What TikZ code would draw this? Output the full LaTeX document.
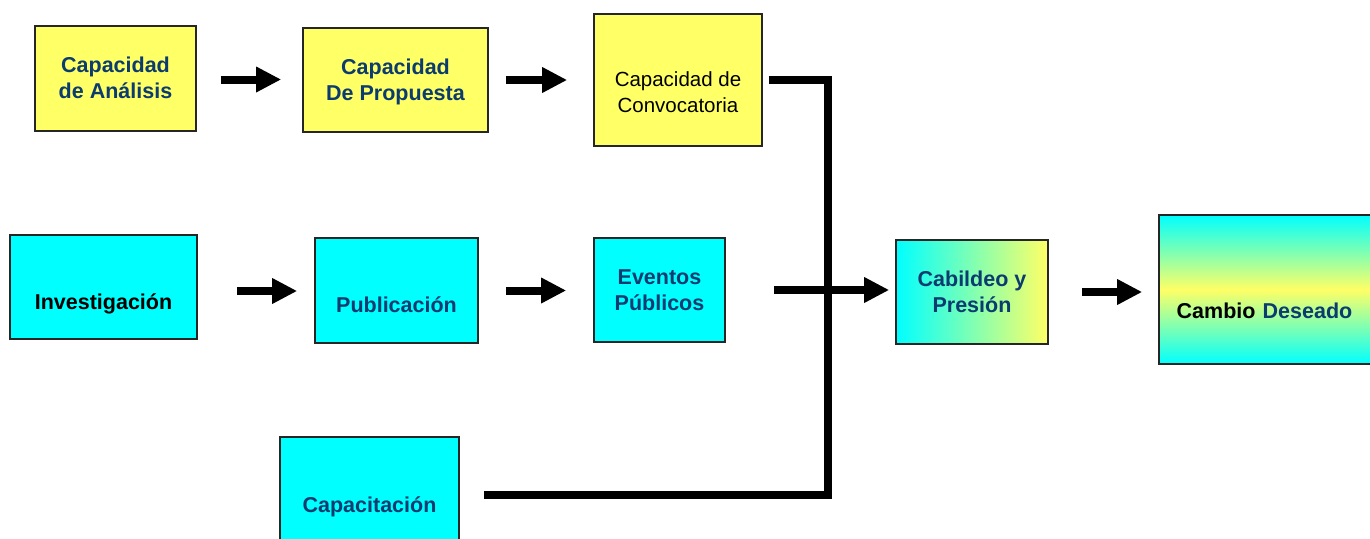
\documentclass[tikz,border=0pt]{standalone}
\usepackage{fontspec}
\setmainfont{Liberation Sans}
\usetikzlibrary{arrows.meta}
\definecolor{boxyellow}{HTML}{FFFF66}
\definecolor{boxcyan}{HTML}{00FFFF}
\definecolor{navy}{HTML}{0B3B6F}
\tikzset{
  box/.style={draw=black!85, line width=1.6pt, inner sep=0pt, align=center,
    text=navy, font=\bfseries\fontsize{21.5}{26}\selectfont},
  ybox/.style={box, fill=boxyellow},
  cbox/.style={box, fill=boxcyan},
  lowtext/.style={text height=#1, text depth=4pt},
  flow/.style={line width=8pt, -{Triangle[length=25pt,width=24pt]}},
  joinline/.style={line width=8pt, line join=miter}
}

\begin{document}
\begin{tikzpicture}[x=1pt, y=-1pt]
  \clip (0,0) rectangle (1370,538);
  \node[ybox, minimum width=161pt, minimum height=105pt, lowtext=44pt] (ana) at (115.5,78.5) {Capacidad\\de Análisis};
  \node[ybox, minimum width=185pt, minimum height=104pt, lowtext=44pt] (prop) at (395.5,80) {Capacidad\\De Propuesta};
  \node[ybox, minimum width=168pt, minimum height=132pt, text=black,
    font=\fontsize{20.5}{26}\selectfont, lowtext=69pt] (conv) at (678,80) {Capacidad de\\Convocatoria};
  \node[cbox, minimum width=187pt, minimum height=104pt, text=black,
    lowtext=48pt] (inv) at (103.5,287) {Investigación};
  \node[cbox, minimum width=163pt, minimum height=105pt, lowtext=47pt] (pub) at (396.5,290.5) {Publicación};
  \node[cbox, minimum width=131pt, minimum height=104pt] (ev) at (659.5,290) {Eventos\\Públicos};
  \node[cbox, minimum width=179pt, minimum height=139pt] (capt) at (369.5,506.5) {Capacitación};
  \node[box, minimum width=152pt, minimum height=104pt, left color=boxcyan,
    right color=boxyellow] (cab) at (972,292) {Cabildeo y\\Presión};
  \node[box, minimum width=230pt, minimum height=149pt, top color=boxcyan,
    bottom color=boxcyan, middle color=boxyellow, text=black, lowtext=62pt,
    text width=230pt] (cambio) at (1274,289.5) {\hspace*{-19pt}Cambio \textcolor{navy}{Deseado}};
  \coordinate (join) at (828,495);

  \draw[flow, shorten <=24pt, shorten >=21pt] ([yshift=-1pt]ana.east) -- ([yshift=-1pt]ana.east -| prop.west);
  \draw[flow, shorten <=17pt, shorten >=26pt] (prop.east) -- (prop.east -| conv.west);
  \draw[flow, shorten <=39pt, shorten >=17pt] ([yshift=-4pt]inv.east) -- ([yshift=-4pt]inv.east -| pub.west);
  \draw[flow, shorten <=27pt, shorten >=27pt] (pub.east) -- (pub.east -| ev.west);
  \draw[flow, shorten <=48pt, shorten >=6pt] (ev.east) -- (ev.east -| cab.west);
  \draw[flow, shorten <=33pt, shorten >=16pt] (cab.east) -- (cab.east -| cambio.west);
  \draw[joinline, shorten <=6pt, shorten >=24pt] (conv.east) -| (join) -- (join -| capt.east);
\end{tikzpicture}
\end{document}
